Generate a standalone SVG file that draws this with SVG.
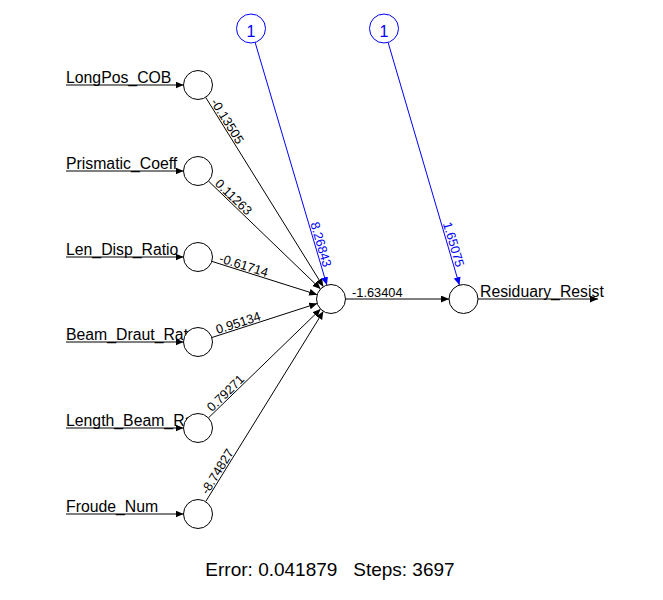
<svg xmlns="http://www.w3.org/2000/svg" width="663" height="600" viewBox="0 0 663 600">
<style>
.n{fill:#fff;stroke:#000;stroke-width:1}
.b{fill:#fff;stroke:#0000ff;stroke-width:1}
.c{stroke:#000;stroke-width:1;fill:none}
.cb{stroke:#0000ff;stroke-width:1;fill:none}
.lab{font-family:"Liberation Sans",Arial,sans-serif;font-size:15.8px;fill:#000}
.w{font-family:"Liberation Sans",Arial,sans-serif;font-size:12.8px;fill:#000}
.wb{font-family:"Liberation Sans",Arial,sans-serif;font-size:12.8px;fill:#0000ff}
.one{font-family:"Liberation Sans",Arial,sans-serif;font-size:16px;fill:#0000ff;text-anchor:middle}
.foot{font-family:"Liberation Sans",Arial,sans-serif;font-size:19px;fill:#000;text-anchor:middle;white-space:pre}
</style>
<defs>
<marker id="ah" markerUnits="userSpaceOnUse" markerWidth="9" markerHeight="8" refX="8" refY="3.5" orient="auto"><path d="M0,0 L8,3.5 L0,7 z" fill="#000"/></marker>
<marker id="ahb" markerUnits="userSpaceOnUse" markerWidth="9" markerHeight="8" refX="8" refY="3.5" orient="auto"><path d="M0,0 L8,3.5 L0,7 z" fill="#0000ff"/></marker>
</defs>
<g id="connectors">
<line class="c" x1="66" y1="85" x2="183.5" y2="85" marker-end="url(#ah)"/>
<line class="c" x1="66" y1="171" x2="183.5" y2="171" marker-end="url(#ah)"/>
<line class="c" x1="66" y1="257" x2="183.5" y2="257" marker-end="url(#ah)"/>
<line class="c" x1="66" y1="342" x2="183.5" y2="342" marker-end="url(#ah)"/>
<line class="c" x1="66" y1="428" x2="183.5" y2="428" marker-end="url(#ah)"/>
<line class="c" x1="66" y1="514" x2="183.5" y2="514" marker-end="url(#ah)"/>
<line class="c" x1="205.65" y1="97.31" x2="323.35" y2="286.69" marker-end="url(#ah)"/>
<line class="c" x1="208.45" y1="181.05" x2="320.55" y2="288.95" marker-end="url(#ah)"/>
<line class="c" x1="211.83" y1="261.37" x2="317.17" y2="294.63" marker-end="url(#ah)"/>
<line class="c" x1="211.80" y1="337.54" x2="317.20" y2="303.46" marker-end="url(#ah)"/>
<line class="c" x1="208.41" y1="417.90" x2="320.59" y2="309.10" marker-end="url(#ah)"/>
<line class="c" x1="205.63" y1="501.67" x2="323.37" y2="311.33" marker-end="url(#ah)"/>
<line class="cb" x1="255.11" y1="42.41" x2="326.89" y2="285.09" marker-end="url(#ahb)"/>
<line class="c" x1="345.5" y1="299" x2="449" y2="299" marker-end="url(#ah)"/>
<line class="cb" x1="388.09" y1="42.41" x2="459.41" y2="285.09" marker-end="url(#ahb)"/>
<line class="c" x1="478" y1="299" x2="598" y2="299" marker-end="url(#ah)"/>
<text class="w" transform="translate(209.09,102.84) rotate(58.14)" dy="-1.5">-0.13505</text>
<text class="w" transform="translate(213.13,185.56) rotate(43.90)" dy="-1.5">0.11263</text>
<text class="w" transform="translate(218.03,263.32) rotate(17.53)" dy="-1.5">-0.61714</text>
<text class="w" transform="translate(217.98,335.54) rotate(-17.92)" dy="-1.5">0.95134</text>
<text class="w" transform="translate(213.07,413.38) rotate(-44.13)" dy="-1.5">0.79271</text>
<text class="w" transform="translate(209.05,496.14) rotate(-58.26)" dy="-1.5">-8.74827</text>
<text class="wb" transform="translate(321.92,268.31) rotate(73.52)" dy="-1.5" text-anchor="end">8.26843</text>
<text class="wb" transform="translate(454.48,268.30) rotate(73.62)" dy="-1.5" text-anchor="end">1.65075</text>
<text class="w" x="352" y="297">-1.63404</text>
</g>
<g id="in1"><text class="lab" x="66" y="83">LongPos_COB</text><circle class="n" cx="198" cy="85" r="14.5"/></g>
<g id="in2"><text class="lab" x="66" y="169">Prismatic_Coeff</text><circle class="n" cx="198" cy="171" r="14.5"/></g>
<g id="in3"><text class="lab" x="66" y="255">Len_Disp_Ratio</text><circle class="n" cx="198" cy="257" r="14.5"/></g>
<g id="in4"><text class="lab" x="66" y="340">Beam_Draut_Rat</text><circle class="n" cx="198" cy="342" r="14.5"/></g>
<g id="in5"><text class="lab" x="66" y="426">Length_Beam_Ra</text><circle class="n" cx="198" cy="428" r="14.5"/></g>
<g id="in6"><text class="lab" x="66" y="512">Froude_Num</text><circle class="n" cx="198" cy="514" r="14.5"/></g>
<g id="hidden"><circle class="n" cx="331" cy="299" r="14.5"/></g>
<g id="output"><circle class="n" cx="463.5" cy="299" r="14.5"/><text class="lab" x="480" y="297">Residuary_Resist</text></g>
<g id="bias1"><circle class="b" cx="251" cy="28.5" r="14.5"/><text class="one" x="251" y="36.5">1</text></g>
<g id="bias2"><circle class="b" cx="384" cy="28.5" r="14.5"/><text class="one" x="384" y="36.5">1</text></g>
<text class="foot" x="330" y="575.5" xml:space="preserve">Error: 0.041879   Steps: 3697</text>
</svg>
